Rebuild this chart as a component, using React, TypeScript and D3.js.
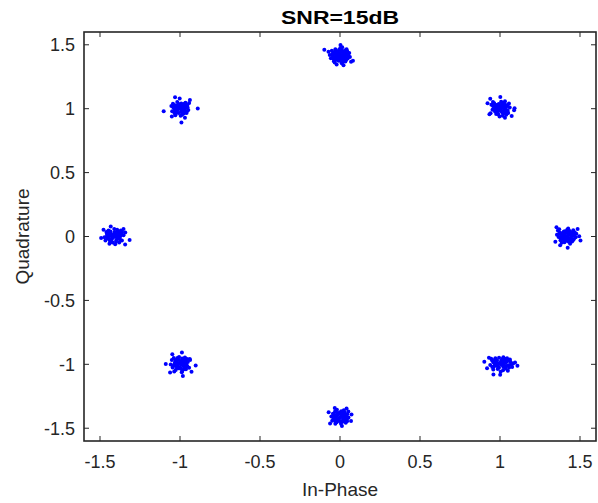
import * as d3 from 'd3';

// ideal 8-PSK symbol positions (I, Q)
const SYMBOL_I = [0, 1, 1.414, 1, 0, -1, -1.414, -1];
const SYMBOL_Q = [1.414, 1, 0, -1, -1.414, -1, 0, 1];

const NOISE_N = [
  [0.004, 0.006], [0.021, 0.012], [-0.018, 0.024], [0.031, -0.017], [-0.027, -0.009], [0.012, 0.041],
  [-0.009, -0.038], [0.043, 0.019], [-0.041, 0.028], [0.018, -0.047], [-0.022, -0.031], [0.052, 0.003],
  [-0.049, 0.011], [0.009, -0.021], [-0.012, 0.018], [0.033, 0.044], [-0.029, 0.052], [0.039, -0.031],
  [-0.038, -0.042], [0.002, 0.061], [0.011, -0.058], [0.058, 0.022], [-0.057, -0.019], [0.027, 0.008],
  [-0.016, -0.012], [0.019, 0.033], [-0.006, 0.047], [0.048, -0.021], [-0.051, 0.039], [-0.002, -0.029],
  [0.041, 0.051], [-0.033, -0.053], [0.062, -0.009], [-0.064, 0.006], [0.024, -0.036], [-0.044, -0.006],
  [0.014, 0.066], [-0.098, 0.048], [0.081, -0.038], [0.003, 0.084], [-0.072, 0.031], [0.069, -0.047],
  [0.022, -0.074], [-0.021, -0.068],
  [0.012, -0.008], [-0.007, 0.009], [0.026, 0.027], [-0.034, 0.014], [0.015, -0.014], [-0.019, -0.022],
  [0.036, 0.005], [-0.028, 0.036], [0.005, 0.027], [-0.003, -0.014], [0.029, -0.006], [-0.014, 0.031],
  [0.022, -0.024], [-0.039, -0.026], [0.046, 0.034], [0.008, -0.044], [-0.024, 0.008], [0.034, -0.044],
];
const NOISE_NE = [
  [0.002, -0.004], [-0.019, 0.011], [0.023, 0.016], [-0.031, -0.022], [0.014, -0.029], [0.037, -0.006],
  [-0.042, 0.019], [-0.008, 0.036], [0.029, 0.038], [-0.024, -0.041], [0.046, 0.027], [0.011, 0.049],
  [-0.047, -0.008], [0.051, -0.033], [-0.013, -0.017], [0.006, 0.021], [-0.036, 0.043], [0.039, -0.048],
  [-0.054, 0.031], [0.017, -0.056], [0.061, 0.009], [-0.003, -0.062], [0.031, 0.058], [-0.059, -0.036],
  [0.026, 0.002], [-0.021, 0.028], [0.048, -0.017], [-0.011, -0.044], [0.007, 0.055], [-0.044, 0.052],
  [0.056, 0.041], [0.034, -0.027], [-0.028, -0.003], [0.002, 0.092], [-0.078, 0.042], [0.091, 0.004],
  [0.073, -0.057], [0.031, -0.071], [-0.061, 0.078], [-0.066, -0.044], [0.088, -0.012],
  [0.013, 0.006], [-0.009, -0.012], [0.028, -0.015], [-0.025, 0.021], [0.004, 0.014], [-0.016, -0.028],
  [0.039, 0.016], [0.019, 0.031], [-0.034, 0.007], [0.021, -0.038], [-0.006, 0.026], [0.043, -0.029],
  [-0.031, -0.011], [0.009, -0.021], [0.032, 0.024], [-0.041, 0.036], [0.016, 0.041], [-0.018, 0.004],
];
const NOISE_E = [
  [-0.004, 0.003], [0.018, -0.013], [-0.023, 0.019], [0.029, 0.024], [-0.034, -0.016], [0.009, -0.032],
  [0.041, 0.007], [-0.016, 0.038], [0.022, 0.043], [-0.039, 0.029], [0.047, -0.022], [-0.011, -0.045],
  [0.036, -0.039], [-0.048, -0.003], [0.006, 0.052], [0.053, 0.031], [-0.028, -0.048], [0.014, 0.014],
  [-0.019, -0.021], [0.032, 0.006], [-0.052, 0.046], [0.059, -0.006], [0.024, -0.057], [-0.044, 0.057],
  [0.001, -0.019], [-0.007, 0.027], [0.044, 0.049], [-0.058, 0.014], [0.027, -0.028], [0.063, 0.021],
  [-0.031, 0.002], [0.012, 0.062], [-0.061, 0.072], [-0.038, -0.069], [0.009, -0.088], [0.089, -0.031],
  [0.081, 0.002], [-0.068, -0.041], [0.071, 0.058],
  [0.011, 0.008], [-0.013, -0.007], [0.024, 0.016], [-0.028, 0.009], [0.004, -0.011], [0.019, -0.026],
  [-0.021, 0.028], [0.037, 0.029], [-0.036, -0.029], [0.031, -0.014], [-0.009, 0.041], [0.049, 0.006],
  [0.008, 0.031], [-0.044, 0.021], [0.016, -0.041], [-0.017, 0.009], [0.041, -0.031], [-0.003, -0.034],
];
const NOISE_SE = [
  [0.003, 0.002], [-0.022, 0.014], [0.026, -0.011], [-0.038, -0.018], [0.041, 0.021], [0.011, 0.034],
  [-0.014, -0.036], [0.057, -0.024], [-0.049, 0.029], [0.034, 0.041], [-0.029, 0.047], [0.068, 0.012],
  [-0.061, -0.006], [0.019, -0.047], [-0.006, 0.052], [0.049, -0.051], [0.076, -0.021], [-0.042, -0.041],
  [0.014, 0.009], [-0.017, -0.013], [0.029, 0.024], [0.044, 0.047], [-0.055, 0.044], [0.062, 0.038],
  [-0.008, -0.022], [0.082, 0.006], [0.004, -0.058], [-0.034, 0.006], [0.036, -0.032], [0.021, 0.055],
  [-0.098, 0.021], [-0.081, -0.031], [-0.041, -0.079], [0.001, -0.082], [0.109, -0.012], [0.094, 0.014],
  [-0.069, 0.051],
  [0.012, -0.006], [-0.011, 0.008], [0.033, 0.013], [-0.027, -0.007], [0.021, -0.021], [0.047, 0.027],
  [-0.041, 0.017], [0.006, 0.022], [0.052, -0.008], [-0.019, 0.031], [0.027, 0.036], [-0.007, -0.027],
  [0.039, -0.014], [0.063, 0.024], [-0.048, -0.021], [0.016, 0.041], [-0.031, 0.036], [0.071, -0.004],
];
const NOISE_S = [
  [0.001, -0.003], [-0.017, 0.016], [0.021, 0.013], [-0.026, -0.019], [0.017, -0.027], [0.034, 0.004],
  [-0.038, 0.007], [-0.004, 0.034], [0.028, 0.037], [-0.021, -0.039], [0.043, -0.018], [0.008, 0.046],
  [-0.044, 0.028], [0.046, 0.026], [-0.009, -0.016], [0.011, 0.019], [-0.031, 0.044], [0.036, -0.043],
  [-0.049, -0.027], [0.006, -0.051], [0.053, -0.002], [-0.054, 0.006], [0.024, 0.054], [-0.019, 0.059],
  [0.019, -0.013], [-0.012, 0.024], [0.031, -0.019], [-0.029, -0.052], [0.052, 0.044], [-0.071, 0.038],
  [0.069, -0.029], [-0.033, 0.072], [0.041, 0.069], [0.012, -0.068], [-0.062, -0.049], [0.072, 0.021],
  [0.009, 0.007], [-0.008, -0.009], [0.024, -0.006], [-0.023, 0.007], [0.006, 0.024], [0.016, -0.036],
  [-0.033, -0.008], [0.031, 0.022], [-0.014, 0.034], [-0.004, -0.029], [0.039, 0.011], [-0.036, 0.021],
  [0.021, 0.031], [0.027, -0.029], [-0.028, -0.031], [0.044, -0.032], [0.003, 0.039], [-0.041, -0.014],
];
const NOISE_SW = [
  [-0.002, 0.004], [0.019, -0.014], [-0.024, -0.011], [0.028, 0.022], [-0.031, 0.018], [0.006, -0.034],
  [-0.012, 0.038], [0.043, -0.009], [-0.046, -0.024], [0.021, 0.043], [-0.027, -0.044], [0.049, 0.019],
  [0.014, -0.052], [-0.051, 0.033], [0.008, 0.011], [-0.014, -0.018], [0.037, -0.038], [-0.039, 0.049],
  [0.057, -0.027], [-0.006, 0.057], [0.031, 0.054], [-0.058, -0.002], [0.026, -0.002], [-0.021, 0.021],
  [0.011, -0.062], [0.063, 0.034], [-0.036, -0.056], [0.044, 0.041], [-0.009, -0.031], [0.012, 0.092],
  [-0.048, 0.079], [-0.089, 0.002], [-0.062, -0.064], [0.018, -0.091], [0.098, -0.009], [0.061, 0.041],
  [0.072, -0.058],
  [0.009, -0.004], [-0.011, 0.011], [0.023, 0.008], [-0.019, -0.027], [0.031, -0.024], [-0.034, 0.004],
  [0.004, 0.026], [0.016, 0.029], [-0.028, 0.033], [-0.004, -0.023], [0.039, 0.011], [0.024, -0.039],
  [-0.041, -0.012], [0.013, 0.046], [-0.022, -0.006], [0.046, -0.019], [-0.016, 0.049], [0.034, 0.031],
];
const NOISE_W = [
  [0.003, -0.002], [-0.018, 0.017], [0.024, 0.011], [-0.029, -0.021], [0.016, -0.028], [0.038, -0.004],
  [-0.041, 0.009], [0.006, 0.036], [0.031, 0.034], [-0.023, -0.041], [0.047, 0.024], [-0.007, -0.047],
  [-0.046, 0.036], [0.051, -0.031], [-0.011, -0.012], [0.012, 0.019], [-0.033, 0.047], [0.034, -0.046],
  [-0.052, -0.031], [0.021, 0.052], [0.061, 0.009], [-0.058, -0.006], [0.003, 0.059], [-0.019, 0.029],
  [0.027, -0.014], [-0.036, -0.009], [0.044, 0.047], [0.009, -0.061], [-0.027, -0.057], [-0.019, 0.079],
  [-0.079, -0.011], [0.099, -0.028], [0.071, -0.062], [0.072, 0.031], [0.061, 0.058], [-0.064, 0.052],
  [0.011, 0.006], [-0.007, -0.009], [0.022, -0.017], [-0.024, 0.006], [0.008, 0.024], [0.031, 0.019],
  [-0.031, 0.026], [-0.014, -0.026], [0.041, 0.006], [0.014, -0.041], [-0.038, -0.014], [0.026, 0.039],
  [-0.021, 0.039], [0.039, -0.024], [-0.003, 0.014], [0.052, 0.036], [-0.043, 0.021], [0.018, 0.003],
];
const NOISE_NW = [
  [0.002, 0.003], [-0.021, -0.012], [0.017, 0.021], [-0.026, 0.024], [0.029, -0.018], [-0.011, -0.033],
  [0.039, 0.008], [-0.037, 0.004], [0.008, 0.041], [0.024, -0.038], [-0.033, -0.036], [0.046, 0.029],
  [-0.044, 0.038], [0.013, -0.047], [-0.009, 0.012], [0.011, -0.014], [0.034, 0.046], [-0.049, -0.021],
  [0.052, -0.011], [-0.017, 0.053], [0.004, -0.056], [0.057, 0.044], [-0.054, 0.021], [0.027, 0.007],
  [-0.024, 0.002], [0.019, -0.026], [-0.004, 0.029], [0.041, -0.034], [-0.029, -0.051], [0.111, 0.002],
  [0.009, -0.109], [-0.051, -0.061], [-0.102, -0.021], [-0.031, 0.089], [0.031, -0.071], [0.062, 0.068],
  [-0.002, 0.079],
  [0.011, 0.009], [-0.012, -0.004], [0.026, -0.008], [-0.017, 0.016], [0.006, -0.023], [0.021, 0.031],
  [-0.031, -0.019], [0.033, 0.017], [-0.036, 0.027], [0.014, -0.034], [-0.021, -0.026], [0.043, -0.021],
  [-0.008, 0.036], [0.028, 0.039], [-0.042, 0.011], [0.018, 0.006], [-0.002, 0.019], [0.047, 0.012],
];
const NOISE = [NOISE_N, NOISE_NE, NOISE_E, NOISE_SE, NOISE_S, NOISE_SW, NOISE_W, NOISE_NW];

const TICKS = [-1.5, -1, -0.5, 0, 0.5, 1, 1.5];

const W = 598, H = 503;
const M = { left: 84, right: 2, top: 32, bottom: 62 };
const FONT = '"Liberation Sans", Arial, Helvetica, sans-serif';
const AXIS_COL = '#262626';

export default function App() {
  const x = d3.scaleLinear().domain([-1.6, 1.6]).range([M.left, W - M.right]);
  const y = d3.scaleLinear().domain([-1.6, 1.6]).range([H - M.bottom, M.top]);
  const [x0, x1] = x.range();
  const [y0, y1] = y.range(); // y0 bottom, y1 top
  const tl = 5;

  const points = NOISE.flatMap((cluster, k) =>
    cluster.map(([di, dq]) => [SYMBOL_I[k] + di, SYMBOL_Q[k] + dq])
  );

  return (
    <svg width={W} height={H} style={{ position: 'absolute', left: 0, top: 0, background: '#fff' }}
      fontFamily={FONT}>
      <text x={(x0 + x1) / 2} y={24} textAnchor="middle" fontWeight="bold" fontSize={18}
        fill="#000" textLength={118} lengthAdjust="spacingAndGlyphs">SNR=15dB</text>

      <g fill="#0000ff">
        {points.map((p, i) => (
          <circle key={i} cx={x(p[0])} cy={y(p[1])} r={2} />
        ))}
      </g>

      <g stroke={AXIS_COL} strokeWidth={1}>
        {TICKS.map(t => (
          <g key={'x' + t}>
            <line x1={x(t)} x2={x(t)} y1={y0} y2={y0 - tl} />
            <line x1={x(t)} x2={x(t)} y1={y1} y2={y1 + tl} />
          </g>
        ))}
        {TICKS.map(t => (
          <g key={'y' + t}>
            <line x1={x0} x2={x0 + tl} y1={y(t)} y2={y(t)} />
            <line x1={x1} x2={x1 - tl} y1={y(t)} y2={y(t)} />
          </g>
        ))}
      </g>
      <rect x={x0} y={y1} width={x1 - x0} height={y0 - y1} fill="none" stroke={AXIS_COL} strokeWidth={1.6} />

      <g fill={AXIS_COL} fontSize={18}>
        {TICKS.map(t => (
          <text key={'xl' + t} x={x(t)} y={y0 + 27} textAnchor="middle">{String(t)}</text>
        ))}
        {TICKS.map(t => (
          <text key={'yl' + t} x={x0 - 9} y={y(t) + 6.5} textAnchor="end">{String(t)}</text>
        ))}
      </g>

      <text x={(x0 + x1) / 2} y={496} textAnchor="middle" fontSize={19} fill={AXIS_COL}>In-Phase</text>
      <text transform={`translate(29,${(y0 + y1) / 2}) rotate(-90)`} textAnchor="middle" fontSize={19}
        fill={AXIS_COL}>Quadrature</text>
    </svg>
  );
}
